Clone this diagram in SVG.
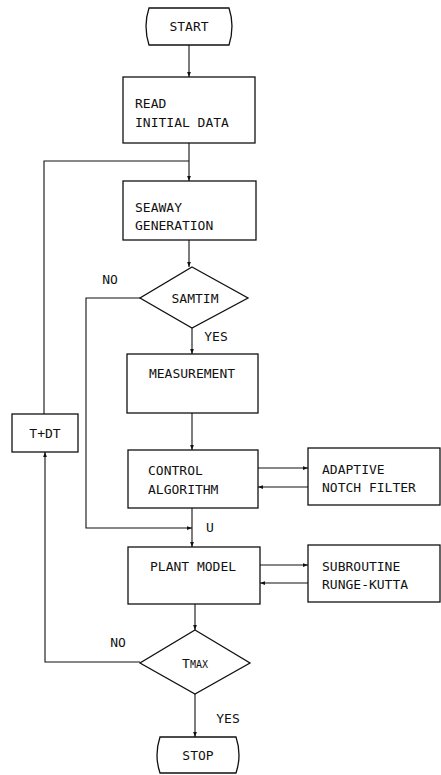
<svg xmlns="http://www.w3.org/2000/svg" width="441" height="775" viewBox="0 0 441 775">
<defs>
<marker id="ah" viewBox="0 0 8 8" refX="8" refY="4" markerWidth="5" markerHeight="5" orient="auto" markerUnits="userSpaceOnUse">
<path d="M0,1 L8,4 L0,7 Z" fill="#111"/>
</marker>
</defs>
<style>
.n{fill:#fff;stroke:#111;stroke-width:1.3}
.c{fill:none;stroke:#111;stroke-width:1.1}
text{font-family:"DejaVu Sans Mono","Liberation Mono",monospace;font-size:13px;fill:#111}
.m{text-anchor:middle}
</style>
<rect width="441" height="775" fill="#fff"/>
<g id="connectors">
<path class="c" d="M189,45 V77" marker-end="url(#ah)"/>
<path class="c" d="M189,143 V181" marker-end="url(#ah)"/>
<path class="c" d="M44,414 V161 H189"/>
<path class="c" d="M189,240 V267" marker-end="url(#ah)"/>
<path class="c" d="M140,298 H86 V528 H192" marker-end="url(#ah)"/>
<path class="c" d="M192,328 V354" marker-end="url(#ah)"/>
<path class="c" d="M192,413 V450" marker-end="url(#ah)"/>
<path class="c" d="M258,468 H308" marker-end="url(#ah)"/>
<path class="c" d="M308,487 H258" marker-end="url(#ah)"/>
<path class="c" d="M192,508 V547" marker-end="url(#ah)"/>
<path class="c" d="M260,565 H308" marker-end="url(#ah)"/>
<path class="c" d="M308,583 H260" marker-end="url(#ah)"/>
<path class="c" d="M195,604 V630" marker-end="url(#ah)"/>
<path class="c" d="M140,662 H45 V452" marker-end="url(#ah)"/>
<path class="c" d="M195,694 V737" marker-end="url(#ah)"/>
<text x="110" y="284" class="m">NO</text>
<text x="216" y="341" class="m">YES</text>
<text x="210" y="532" class="m">U</text>
<text x="118" y="647" class="m">NO</text>
<text x="228" y="723" class="m">YES</text>
</g>
<g id="start">
<path class="n" d="M149,8 H229 Q235,26 229,45 H149 Q143,26 149,8 Z"/>
<text x="189" y="31" class="m">START</text>
</g>
<g id="read">
<rect class="n" x="123" y="77" width="132" height="66"/>
<text x="135" y="108">READ</text>
<text x="135" y="127">INITIAL DATA</text>
</g>
<g id="seaway">
<rect class="n" x="123" y="181" width="133" height="59"/>
<text x="135" y="212">SEAWAY</text>
<text x="135" y="230">GENERATION</text>
</g>
<g id="samtim">
<path class="n" d="M192,267 L248,298 L192,328 L140,298 Z"/>
<text x="195" y="303" class="m">SAMTIM</text>
</g>
<g id="measurement">
<rect class="n" x="127" y="354" width="131" height="59"/>
<text x="192" y="378" class="m">MEASUREMENT</text>
</g>
<g id="tdt">
<rect class="n" x="12" y="414" width="66" height="38"/>
<text x="45" y="438" class="m">T+DT</text>
</g>
<g id="control">
<rect class="n" x="128" y="450" width="130" height="58"/>
<text x="148" y="475">CONTROL</text>
<text x="148" y="494">ALGORITHM</text>
</g>
<g id="notch">
<rect class="n" x="308" y="448" width="132" height="57"/>
<text x="322" y="474">ADAPTIVE</text>
<text x="322" y="492">NOTCH FILTER</text>
</g>
<g id="plant">
<rect class="n" x="128" y="547" width="132" height="57"/>
<text x="150" y="571">PLANT MODEL</text>
</g>
<g id="rk">
<rect class="n" x="308" y="545" width="132" height="57"/>
<text x="322" y="571">SUBROUTINE</text>
<text x="322" y="589">RUNGE-KUTTA</text>
</g>
<g id="tmax">
<path class="n" d="M195,630 L250,663 L195,694 L140,663 Z"/>
<text x="195" y="668" class="m">T<tspan font-size="10">MAX</tspan></text>
</g>
<g id="stop">
<path class="n" d="M160,737 H236 Q242,755 236,773 H160 Q154,755 160,737 Z"/>
<text x="198" y="760" class="m">STOP</text>
</g>
</svg>
